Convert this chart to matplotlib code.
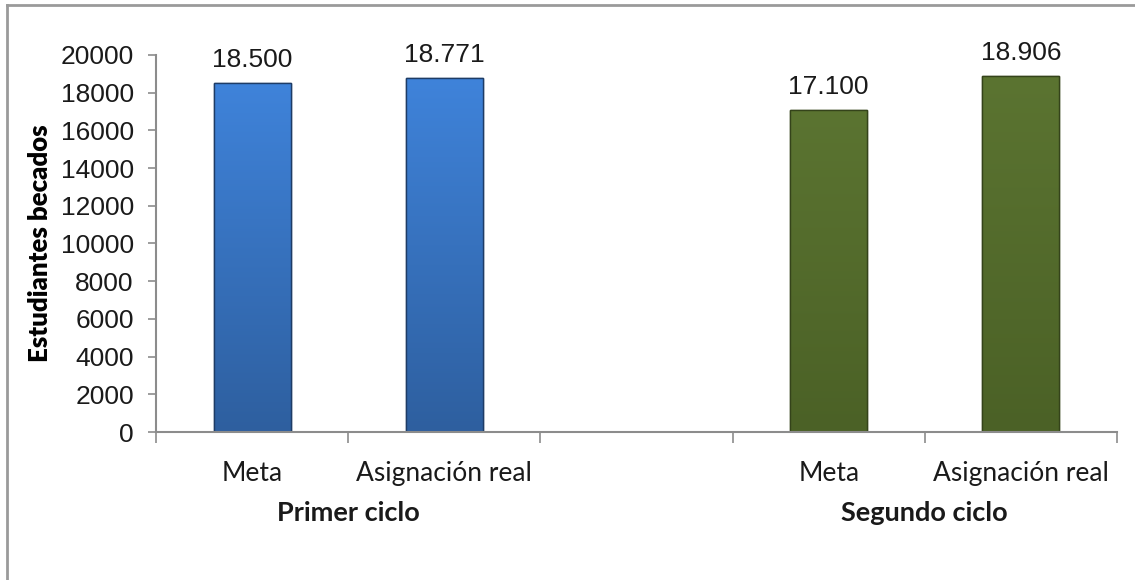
import matplotlib
matplotlib.use("Agg")
import matplotlib.pyplot as plt
from matplotlib.lines import Line2D
import numpy as np

# data
categories = ["Meta", "Asignación real", "", "Meta", "Asignación real"]
groups = ["Primer ciclo", "Segundo ciclo"]
group_centers = [0.5, 3.5]
values = [18500, 18771, None, 17100, 18906]
value_labels = ["18.500", "18.771", "", "17.100", "18.906"]
y_ticks = [0, 2000, 4000, 6000, 8000, 10000, 12000, 14000, 16000, 18000, 20000]

BLUE = dict(top="#3f83da", bottom="#2e5f9f", edge="#1e3c66")
GREEN = dict(top="#5b7431", bottom="#4b6126", edge="#34431a")
bar_styles = [BLUE, BLUE, None, GREEN, GREEN]

fig = plt.figure(figsize=(11.35, 5.8), dpi=100)
ax = fig.add_axes([156 / 1135, 1 - 432 / 580, (1117 - 156) / 1135, (432 - 55) / 580])

x = np.arange(len(categories))
for xi, v, st in zip(x, values, bar_styles):
    if v is None:
        continue
    bar = ax.bar(xi, v, width=0.4, color=st["bottom"], edgecolor=st["edge"], linewidth=1.0, zorder=2)[0]
    # vertical gradient, lighter at the top
    grad = np.linspace(0, 1, 256).reshape(-1, 1)
    cmap = matplotlib.colors.LinearSegmentedColormap.from_list("g", [st["bottom"], st["top"]])
    im = ax.imshow(grad, cmap=cmap, origin="lower", aspect="auto", zorder=2.1,
                   extent=[xi - 0.2, xi + 0.2, 0, v])
    im.set_clip_path(bar)
    ax.bar(xi, v, width=0.4, color="none", edgecolor=st["edge"], linewidth=1.0, zorder=2.2)

for xi, v, lab in zip(x, values, value_labels):
    if v is None:
        continue
    ax.annotate(lab, (xi, v), xytext=(0, 8), textcoords="offset points", ha="center", va="bottom",
                fontsize=19, family="Liberation Sans", color="#1a1a1a")

ax.set_xlim(-0.5, 4.5)
ax.set_ylim(0, 20000)
ax.set_yticks(y_ticks)
ax.set_yticklabels([str(t) for t in y_ticks], fontsize=19, family="Liberation Sans", color="#1a1a1a")

ax.set_xticks(np.arange(-0.5, 5.0, 1.0))
ax.set_xticklabels([])
ax.set_xticks(x, minor=True)
ax.set_xticklabels(categories, minor=True, fontsize=19, family="Lato", color="#1a1a1a")
ax.tick_params(axis="x", which="minor", length=0, pad=21)
ax.tick_params(axis="x", which="major", length=8, color="#8c8c8c", width=1.2)
ax.tick_params(axis="y", length=6, color="#8c8c8c", width=1.2, pad=10)

for side in ["top", "right"]:
    ax.spines[side].set_visible(False)
for side in ["left", "bottom"]:
    ax.spines[side].set_color("#8c8c8c")
    ax.spines[side].set_linewidth(1.5)

ax.set_ylabel("Estudiantes becados", fontsize=18.5, family="Lato", fontweight="heavy", labelpad=6)

for gx, g in zip(group_centers, groups):
    ax.text(gx, -0.215, g, transform=ax.get_xaxis_transform(), ha="center", va="center",
            fontsize=19.5, family="Lato", fontweight="bold", color="#1a1a1a")

# outer chart frame (top and left edges visible)
fig.add_artist(Line2D([7 / 1135, 7 / 1135], [0, 1 - 5 / 580], color="#9a9a9a", linewidth=2))
fig.add_artist(Line2D([7 / 1135, 1], [1 - 5 / 580, 1 - 5 / 580], color="#9a9a9a", linewidth=2))

fig.savefig("out.png", dpi=100)
